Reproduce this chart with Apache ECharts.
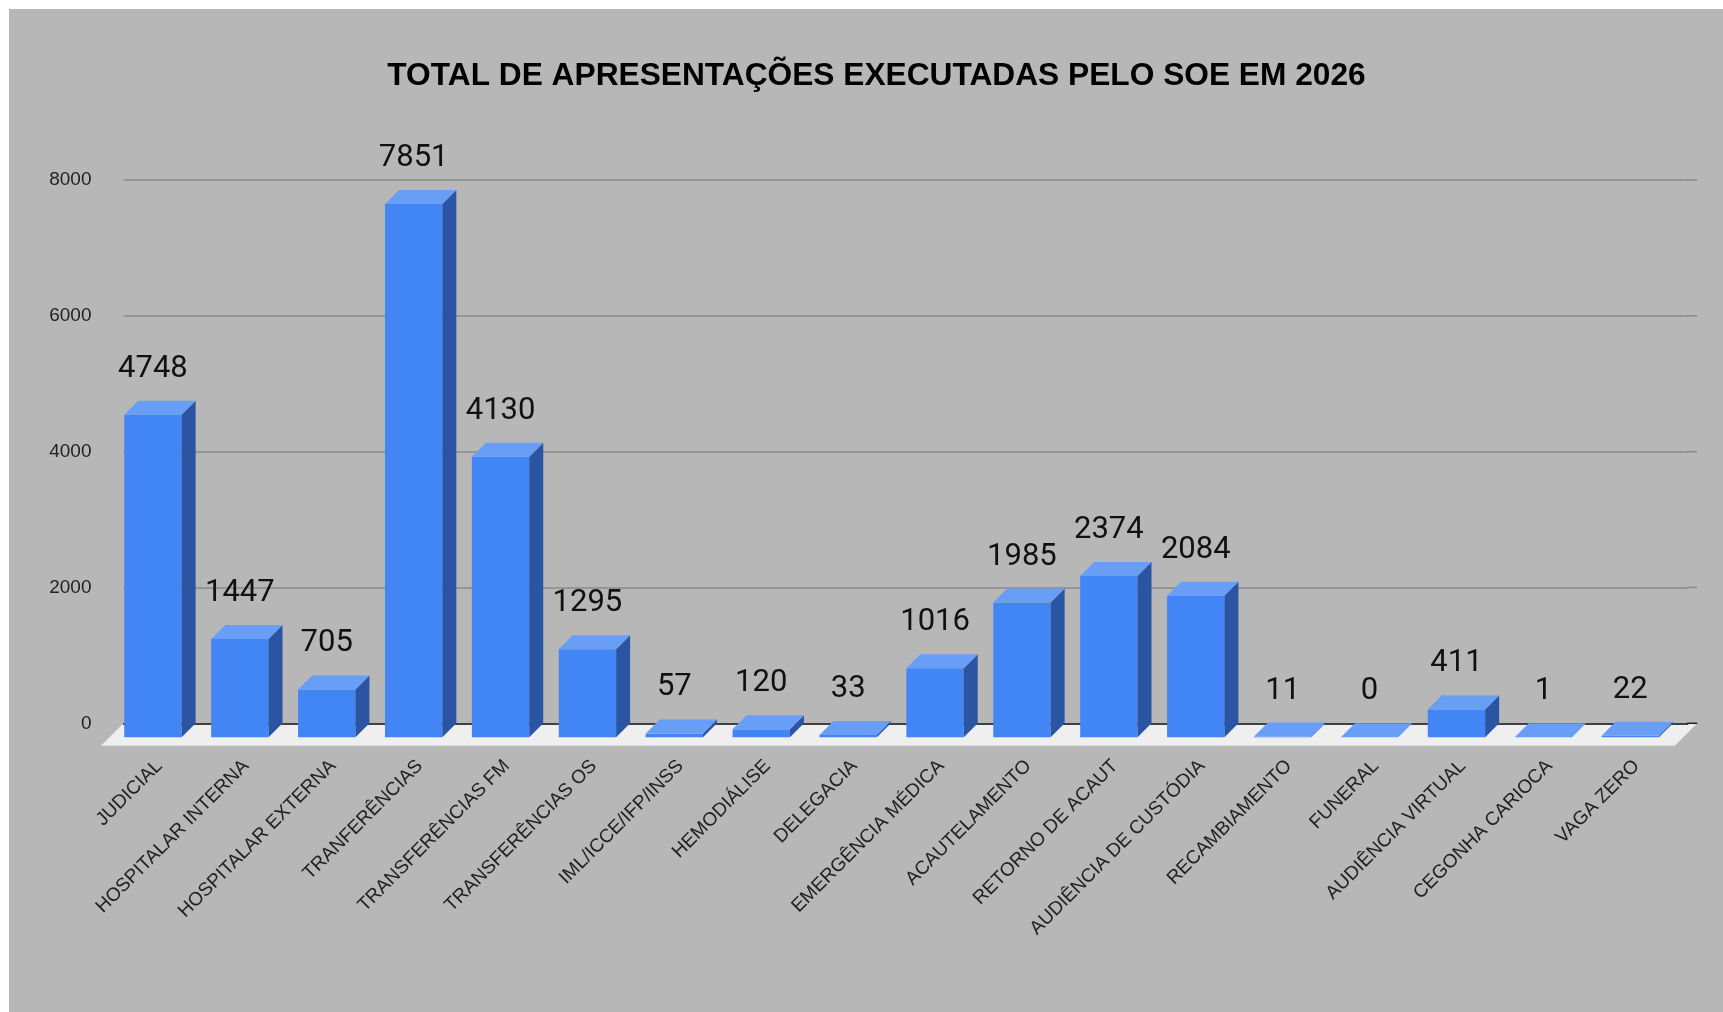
<!DOCTYPE html>
<html>
<head>
<meta charset="utf-8">
<script src="https://cdn.jsdelivr.net/npm/echarts@6/dist/echarts.min.js"></script>
<style>
  html, body { margin: 0; background: #fff; }
  #chart { position: absolute; left: 9px; top: 9px; width: 1714px; height: 1003px; }
</style>
</head>
<body>
<div id="chart"></div>
<script>
// dados do gráfico
const categories = [
  'JUDICIAL', 'HOSPITALAR INTERNA', 'HOSPITALAR EXTERNA', 'TRANFERÊNCIAS',
  'TRANSFERÊNCIAS FM', 'TRANSFERÊNCIAS OS', 'IML/ICCE/IFP/INSS', 'HEMODIÁLISE',
  'DELEGACIA', 'EMERGÊNCIA MÉDICA', 'ACAUTELAMENTO', 'RETORNO DE ACAUT',
  'AUDIÊNCIA DE CUSTÓDIA', 'RECAMBIAMENTO', 'FUNERAL', 'AUDIÊNCIA VIRTUAL',
  'CEGONHA CARIOCA', 'VAGA ZERO'
]
const values = [4748, 1447, 705, 7851, 4130, 1295, 57, 120, 33, 1016, 1985, 2374, 2084, 11, 0, 411, 1, 22]
const yTicks = [0, 2000, 4000, 6000, 8000]

const depth = 14        // profundidade das colunas 3D
const floorDepth = 22.5 // profundidade do "piso"
const wallExtra = 9.5   // parede/piso passam um pouco da última categoria
const colors = { front: '#4285f4', side: '#2b55a3', top: '#689ef6', floor: '#efefef', grid: '#8a8a8a' }

// piso claro, linha de base e prolongamento das linhas de grade
function renderFloor(params, api) {
  const cs = params.coordSys
  const x0 = cs.x, x1 = cs.x + cs.width + wallExtra, y = cs.y + cs.height
  const children = [
    {
      type: 'polygon',
      shape: { points: [[x0, y], [x1, y], [x1 - floorDepth, y + floorDepth], [x0 - floorDepth, y + floorDepth]] },
      style: { fill: colors.floor }
    }
  ]
  yTicks.forEach(t => {
    const ty = api.coord([0, t])[1]
    children.push({
      type: 'line',
      shape: { x1: cs.x + cs.width - 1, y1: ty, x2: x1, y2: ty },
      style: { stroke: t === 0 ? '#222' : colors.grid, lineWidth: 1.5 }
    })
  })
  return { type: 'group', children }
}

// coluna 3D: face frontal, lateral, topo e rótulo
function renderBar(params, api) {
  const idx = api.value(0)
  const val = api.value(1)
  const base = api.coord([idx, 0])
  const top = api.coord([idx, val])
  const bw = api.size([1, 0])[0] * 0.66
  const bl = base[0] - bw / 2, br = base[0] + bw / 2
  const yt = top[1], yb = base[1]
  return {
    type: 'group',
    children: [
      {
        type: 'rect',
        shape: { x: bl - depth, y: yt + depth, width: bw, height: yb - yt },
        style: { fill: colors.front }
      },
      {
        type: 'polygon',
        shape: { points: [[br - depth, yt + depth], [br, yt], [br, yb], [br - depth, yb + depth]] },
        style: { fill: colors.side }
      },
      {
        type: 'polygon',
        shape: { points: [[bl - depth, yt + depth], [br - depth, yt + depth], [br, yt], [bl, yt]] },
        style: { fill: colors.top }
      },
      {
        type: 'text',
        style: {
          text: String(val),
          x: base[0] - depth,
          y: yt - 31.7,
          align: 'center',
          verticalAlign: 'middle',
          fontSize: 31,
          fontFamily: 'Roboto',
          fill: '#111'
        }
      }
    ]
  }
}

const chart = echarts.init(document.getElementById('chart'))
chart.setOption({
  backgroundColor: '#b7b7b7',
  animation: false,
  title: {
    text: 'TOTAL DE APRESENTAÇÕES EXECUTADAS PELO SOE EM 2026',
    left: 867.5,
    top: 51.5,
    padding: 0,
    textAlign: 'center',
    textStyle: { fontFamily: 'Liberation Sans', fontWeight: 'bold', fontSize: 31.7, color: '#000' }
  },
  grid: { left: 114.5, right: 35.3, top: 171, bottom: 288.7 },
  xAxis: {
    type: 'category',
    data: categories,
    axisTick: { show: false },
    axisLine: { lineStyle: { color: '#222', width: 1.5 } },
    axisLabel: {
      interval: 0,
      rotate: 45,
      margin: 32,
      padding: [0, 11, 0, 0],
      fontFamily: 'Liberation Sans',
      fontSize: 19,
      color: '#222'
    }
  },
  yAxis: {
    type: 'value',
    min: yTicks[0],
    max: yTicks[yTicks.length - 1],
    interval: yTicks[1] - yTicks[0],
    axisLine: { show: false },
    axisTick: { show: false },
    axisLabel: { margin: 32, fontFamily: 'Liberation Sans', fontSize: 19, color: '#222', formatter: v => String(v) },
    splitLine: { lineStyle: { color: colors.grid, width: 1.5 } }
  },
  series: [
    {
      type: 'custom',
      z: -1,
      silent: true,
      clip: false,
      renderItem: renderFloor,
      data: [[0, 0]]
    },
    {
      type: 'custom',
      clip: false,
      renderItem: renderBar,
      encode: { x: 0, y: 1 },
      data: values.map((v, i) => [i, v])
    }
  ]
})
</script>
</body>
</html>
